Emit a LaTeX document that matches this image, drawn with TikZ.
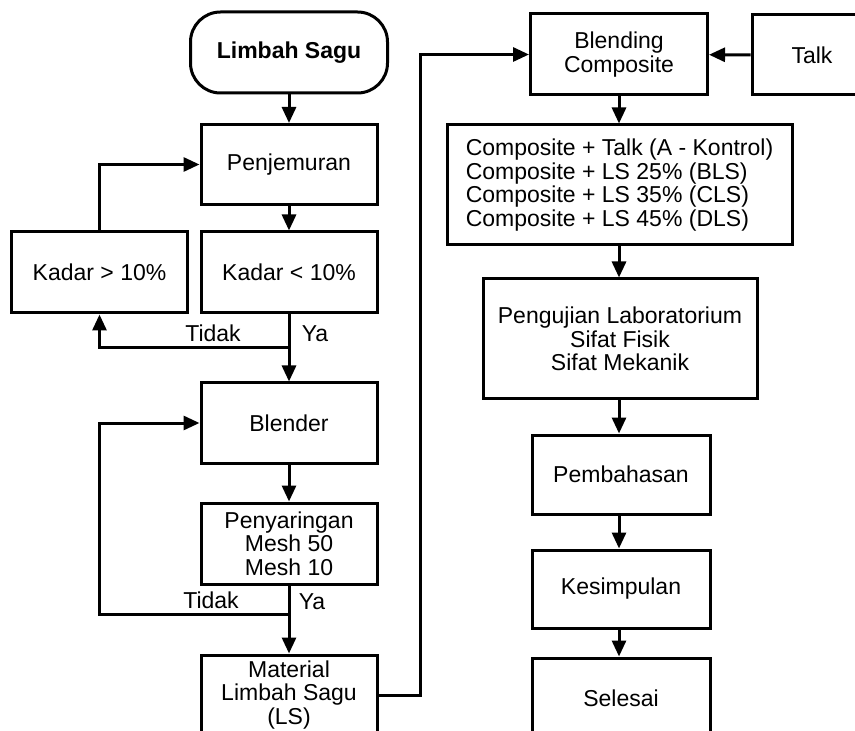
\documentclass[tikz,border=0pt]{standalone}
\usepackage{fontspec}
\setmainfont{Liberation Sans}
\usetikzlibrary{arrows.meta}

\begin{document}
\begin{tikzpicture}[x=0.5pt, y=-0.5pt, font=\fontsize{11.5}{11.85}\selectfont,
	box/.style={draw, line width=1.5pt, align=center, inner sep=0pt, minimum width=88pt, minimum height=40pt},
	term/.style={box, rounded corners=15pt, minimum width=98.5pt, minimum height=40.5pt, font=\fontsize{11.5}{11.85}\selectfont\bfseries},
	arr/.style={line width=1.5pt, -{Triangle[length=8pt,width=7pt]}},
	lbl/.style={inner sep=0pt}]
	\useasboundingbox (0,0) rectangle (855,731);
	\clip (0,0) rectangle (855,731);
	% left column
	\node[term] (start) at (289,52.5) {Limbah Sagu};
	\node[box] (jemur) at (289,164.5) {Penjemuran};
	\node[box, minimum height=40.5pt] (kurang) at (289,272.5) {Kadar < 10\%};
	\node[box, minimum height=40.5pt] (lebih) at (99.5,272.5) {Kadar > 10\%};
	\node[box] (blender) at (289,423) {Blender};
	\node[box, minimum height=40.5pt] (saring) at (289,543.5) {Penyaringan\\Mesh 50\\Mesh 10};
	\node[box] (material) at (289,695) {Material\\Limbah Sagu\\(LS)};
	\coordinate (c1) at (289,348);
	\coordinate (c2) at (289,614);
	\coordinate (c3) at (420,695);
	\node[lbl] (tidak1) at (213,333) {Tidak};
	\node[lbl] (ya1) at (315,334) {Ya};
	\node[lbl] (tidak2) at (211,600) {Tidak};
	\node[lbl] (ya2) at (312,602) {Ya};
	% right column
	\node[box, minimum width=88.5pt, minimum height=40.5pt] (blend) at (619,54.5) {Blending\\Composite};
	\node[box, minimum width=60pt] (talk) at (812,55) {Talk};
	\node[box, align=left, minimum width=172.5pt, minimum height=60pt] (komposit) at (619.5,185) {Composite + Talk (A - Kontrol)\\Composite + LS 25\% (BLS)\\Composite + LS 35\% (CLS)\\Composite + LS 45\% (DLS)};
	\node[box, minimum width=137pt, minimum height=60pt] (uji) at (620,339) {Pengujian Laboratorium\\Sifat Fisik\\Sifat Mekanik};
	\node[box, minimum width=89pt, minimum height=39.5pt] (bahas) at (621,474.5) {Pembahasan};
	\node[box, minimum width=89pt, minimum height=39pt] (simpul) at (621,589) {Kesimpulan};
	\node[box, minimum width=89pt] (selesai) at (621,698) {Selesai};
	% connectors
	\draw[arr] (start) -- (jemur);
	\draw[arr] (jemur) -- (kurang);
	\draw[arr] (lebih.north) |- (jemur.west);
	\draw[arr] (kurang) -- (blender);
	\draw[arr] (c1) -| (lebih.south);
	\draw[arr] (blender) -- (saring);
	\draw[arr] (saring) -- (material);
	\draw[arr] (c2) -- (c2 -| lebih.north) |- (blender.west);
	\draw[arr] (material.east) -- (c3) |- (blend.west);
	\draw[arr] (talk) -- (blend);
	\draw[arr] (blend.south) -- (blend.south |- komposit.north);
	\draw[arr] (blend.south |- komposit.south) -- (blend.south |- uji.north);
	\draw[arr] (blend.south |- uji.south) -- (blend.south |- bahas.north);
	\draw[arr] (blend.south |- bahas.south) -- (blend.south |- simpul.north);
	\draw[arr] (blend.south |- simpul.south) -- (blend.south |- selesai.north);
\end{tikzpicture}
\end{document}
